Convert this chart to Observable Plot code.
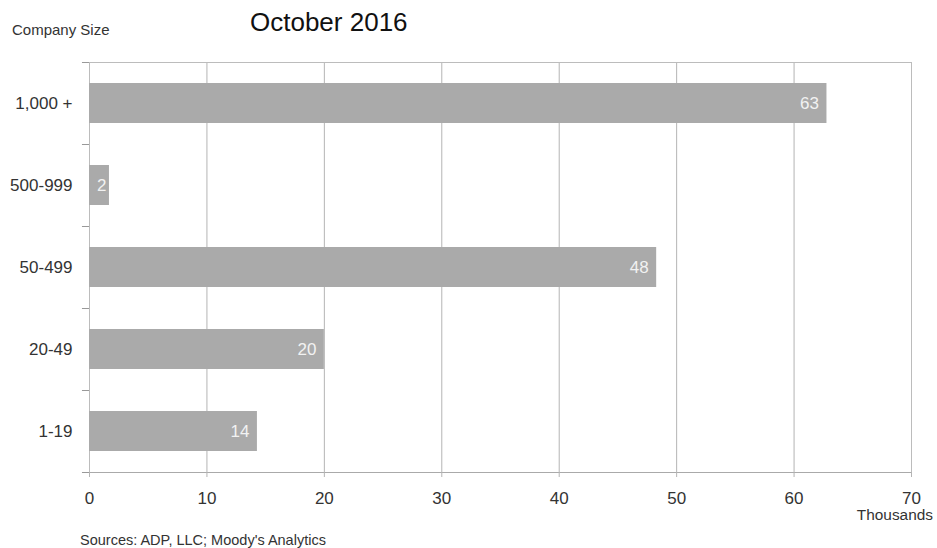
<!DOCTYPE html>
<html>
<head>
<meta charset="utf-8">
<script src="https://cdn.jsdelivr.net/npm/d3@7"></script>
<script src="https://cdn.jsdelivr.net/npm/@observablehq/plot@0.6"></script>
<style>
  html, body { margin: 0; padding: 0; background: #fff; }
  #wrap { position: relative; width: 937px; height: 548px; font-family: "Liberation Sans", Arial, sans-serif; color: #222; }
  .t { position: absolute; line-height: 1; white-space: nowrap; }
</style>
</head>
<body>
<div id="wrap">
  <div class="t" style="left:250px; top:9px; font-size:26px; color:#111;">October 2016</div>
  <div class="t" style="left:12px; top:22px; font-size:15px; color:#333;">Company Size</div>
  <div class="t" style="right:4px; top:507px; font-size:15.4px; color:#333;">Thousands</div>
  <div class="t" style="left:80px; top:533px; font-size:14.5px; color:#333;">Sources: ADP, LLC; Moody's Analytics</div>
</div>
<script>
const categories = ["1,000 +", "500-999", "50-499", "20-49", "1-19"];
const values = [62.8, 1.7, 48.3, 20.0, 14.3];
const valueLabels = ["63", "2", "48", "20", "14"];
const xTicks = [0, 10, 20, 30, 40, 50, 60, 70];

const data = categories.map((c, i) => ({cat: c, value: values[i], label: valueLabels[i]}));

const W = 937, H = 548, mt = 62, mb = 76, ml = 89, mr = 26;
const step = (H - mt - mb) / categories.length;
const gridColor = "#b4b4b4";

const chart = Plot.plot({
  width: W,
  height: H,
  marginTop: mt,
  marginBottom: mb,
  marginLeft: ml,
  marginRight: mr,
  style: {fontFamily: "'Liberation Sans', Arial, sans-serif", color: "#333", background: "#fff"},
  x: {domain: [0, 70], ticks: xTicks, label: null},
  y: {domain: categories, paddingInner: 0.51, paddingOuter: 0.255, label: null},
  marks: [
    Plot.gridX(xTicks, {stroke: gridColor, strokeOpacity: 1}),
    Plot.frame({stroke: "#bcbcbc"}),
    Plot.barX(data, {x: "value", y: "cat", fill: "#aaaaaa"}),
    Plot.text(data.filter(d => d.value >= 5), {x: "value", y: "cat", text: "label", textAnchor: "end", dx: -8, fill: "#f2f2f2", fontSize: 17}),
    Plot.text(data.filter(d => d.value < 5), {x: "value", y: "cat", text: "label", textAnchor: "end", dx: -3, fill: "#f2f2f2", fontSize: 17}),
    Plot.ruleY(categories, {y: d => d, x1: -0.6, x2: 0, dy: step / 2, stroke: "#999"}),
    Plot.ruleY([categories[0]], {y: d => d, x1: -0.6, x2: 0, dy: -step / 2, stroke: "#999"}),
    Plot.ruleY([0], {y: () => categories[categories.length - 1], x1: 0, x2: 70, dy: step / 2, stroke: "#aaa"}),
    Plot.axisX({ticks: xTicks, tickSize: 5, tickPadding: 14, fontSize: 17, stroke: gridColor, label: null}),
    Plot.axisY({tickSize: 0, tickPadding: 17, fontSize: 17, label: null})
  ]
});
document.getElementById("wrap").prepend(chart);
chart.style.position = "absolute";
chart.style.left = "0";
chart.style.top = "0";
</script>
</body>
</html>
